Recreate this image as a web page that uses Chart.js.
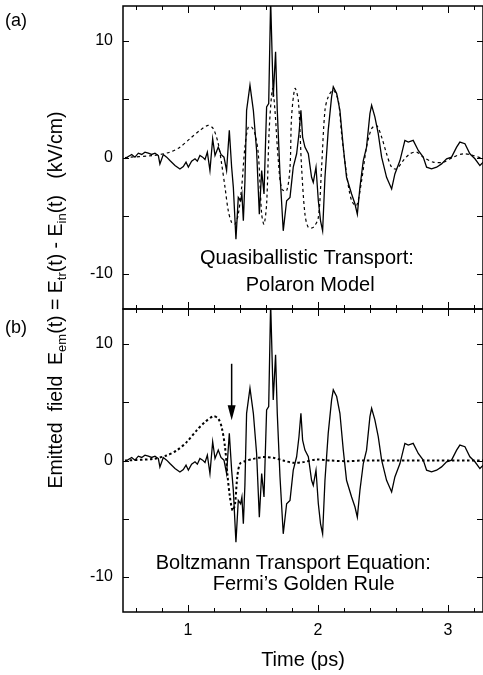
<!DOCTYPE html>
<html>
<head>
<meta charset="utf-8">
<script src="https://cdn.jsdelivr.net/npm/chart.js@4.4.0/dist/chart.umd.min.js"></script>
<style>
  html, body { margin: 0; padding: 0; background: #fff; }
  body { width: 483px; height: 675px; position: relative; overflow: hidden; font-family: "Liberation Sans", Arial, sans-serif; color: #000; }
  canvas { position: absolute; left: 0; }
  #chart-top { top: 0; }
  #chart-bottom { top: 300px; }
  .tag { position: absolute; left: 5px; font-size: 18px; line-height: 20px; }
  #y-title {
    position: absolute; width: 560px; height: 26px; left: -225px; top: 287px;
    text-align: center; font-size: 19.5px; line-height: 26px; white-space: nowrap;
    transform: rotate(-90deg);
  }
  #y-title sub { font-size: 13px; vertical-align: -4px; line-height: 0; }
</style>
</head>
<body>
<canvas id="chart-top" width="483" height="312"></canvas>
<canvas id="chart-bottom" width="483" height="375"></canvas>
<div class="tag" style="top:10px">(a)</div>
<div class="tag" style="top:317px">(b)</div>
<div id="y-title">Emitted&nbsp; field&nbsp; E<sub>em</sub>(t) = E<sub>tr</sub>(t) - E<sub>in</sub>(t)&nbsp;&nbsp; (kV/cm)</div>
<script>
// measured emitted field (solid line, same in both panels)
const timeExp = [0.515, 0.541, 0.567, 0.592, 0.618, 0.644, 0.669, 0.695, 0.720, 0.746, 0.772, 0.784, 0.810, 0.836, 0.861, 0.900, 0.938, 0.964, 0.985, 1.003, 1.028, 1.054, 1.072, 1.092, 1.113, 1.131, 1.149, 1.169, 1.190, 1.208, 1.233, 1.254, 1.277, 1.297, 1.318, 1.336, 1.349, 1.369, 1.387, 1.405, 1.415, 1.426, 1.438, 1.451, 1.477, 1.503, 1.528, 1.549, 1.567, 1.585, 1.605, 1.621, 1.636, 1.656, 1.674, 1.687, 1.708, 1.733, 1.759, 1.785, 1.810, 1.836, 1.854, 1.869, 1.882, 1.900, 1.926, 1.951, 1.964, 1.985, 2.003, 2.020, 2.036, 2.054, 2.079, 2.105, 2.118, 2.144, 2.169, 2.195, 2.220, 2.259, 2.285, 2.303, 2.323, 2.349, 2.374, 2.400, 2.413, 2.438, 2.464, 2.490, 2.528, 2.567, 2.592, 2.631, 2.669, 2.695, 2.733, 2.772, 2.810, 2.836, 2.874, 2.913, 2.951, 2.990, 3.028, 3.067, 3.092, 3.131, 3.169, 3.208, 3.246, 3.272];
const fieldExp = [-0.11, 0.09, 0.26, 0.03, 0.37, 0.26, 0.46, 0.37, 0.26, 0.37, 0.17, -0.55, 0.26, 0.03, -0.26, -0.69, -0.98, -0.78, -0.40, -0.83, -0.32, -0.11, -0.32, 0.17, 0.03, -0.17, 0.46, -1.12, 1.61, 0.17, 0.89, 0.26, 0.03, -1.12, 2.33, -0.83, -2.56, -7.01, -3.42, -3.71, -3.13, -5.43, -2.13, 4.05, 6.21, 4.05, 0.60, -4.86, -1.12, -3.13, 4.34, 4.63, 13.5, 5.2, 9.08, 4.05, -1.41, -6.29, -3.71, -3.42, -0.83, 0.32, 2.04, 4.05, 1.75, 0.89, 0.32, -1.70, -2.13, -0.83, -3.71, -5.43, -6.29, -1.70, 2.33, 5.2, 6.06, 5.49, 4.05, 0.89, -1.70, -3.13, -3.99, -4.86, -2.56, -0.26, 0.89, 3.76, 4.48, 3.48, 2.04, 0.03, -1.70, -2.70, -1.41, -0.26, 1.47, 1.32, 1.47, 0.60, 0.03, -0.83, -0.98, -0.83, -0.55, -0.11, 0.03, 0.89, 1.32, 1.18, 0.32, -0.11, -0.69, -0.40];

// polaron model (dashed, panel a)
const timePolaron = [0.515, 0.733, 0.861, 0.938, 1.015, 1.092, 1.156, 1.195, 1.233, 1.259, 1.285, 1.310, 1.336, 1.362, 1.387, 1.413, 1.438, 1.464, 1.490, 1.515, 1.541, 1.567, 1.585, 1.605, 1.626, 1.651, 1.669, 1.695, 1.721, 1.759, 1.785, 1.797, 1.823, 1.849, 1.874, 1.900, 1.926, 1.964, 2.003, 2.028, 2.054, 2.079, 2.118, 2.156, 2.182, 2.220, 2.259, 2.297, 2.336, 2.374, 2.413, 2.451, 2.490, 2.528, 2.567, 2.605, 2.656, 2.708, 2.759, 2.810, 2.887, 2.964, 3.041, 3.118, 3.195, 3.272];
const fieldPolaron = [0.0, 0.17, 0.46, 0.89, 1.61, 2.33, 2.76, 2.47, 1.18, -0.55, -2.56, -4.57, -5.57, -5.72, -4.86, -2.56, 0.89, 2.61, 2.61, 2.04, 0.32, -4.86, -5.72, -4.00, 2.61, 5.92, 4.05, -0.26, -2.70, -2.85, -0.83, 3.48, 5.92, 4.91, -0.83, -4.86, -6.00, -6.00, -5.14, -0.83, 4.05, 5.20, 5.78, 4.91, 2.04, -1.41, -3.71, -4.14, -1.98, 0.89, 2.47, 2.76, 1.75, 0.32, -0.83, -0.98, -0.26, 0.32, 0.46, 0.03, -0.40, -0.40, 0.03, 0.32, 0.17, -0.11];

// Boltzmann transport / Fermi's golden rule (dotted, panel b)
const timeBoltz = [0.515, 0.733, 0.836, 0.913, 0.990, 1.067, 1.131, 1.195, 1.233, 1.259, 1.285, 1.303, 1.323, 1.344, 1.362, 1.379, 1.400, 1.438, 1.503, 1.579, 1.656, 1.733, 1.810, 1.887, 1.990, 2.092, 2.220, 2.349, 2.600, 2.900, 3.272];
const fieldBoltz = [0.0, 0.14, 0.43, 0.86, 1.58, 2.59, 3.30, 3.79, 3.59, 2.87, 1.15, -1.15, -3.16, -4.31, -3.74, -1.44, -0.29, -0.06, 0.14, 0.29, 0.23, 0.0, -0.2, -0.14, 0.09, 0.0, -0.06, 0.0, 0.0, 0.0, 0.0];

const xLabelTicks = [1, 2, 3];
const yLabelTicks = [-10, 0, 10];
const xTickMarks = [0.6, 0.8, 1.0, 1.2, 1.4, 1.6, 1.8, 2.0, 2.2, 2.4, 2.6, 2.8, 3.0, 3.2];
const yTickMarks = [-10, -5, 0, 5, 10];

const FONT = '"Liberation Sans", Arial, sans-serif';

function pts(xs, ys) {
  return xs.map((x, i) => ({ x: x, y: ys[i] }));
}

// box round the plot area with inward ticks on all sides
const framePlugin = {
  id: "frame",
  afterDraw(chart) {
    const { ctx, chartArea: a, scales: { x, y } } = chart;
    ctx.save();
    ctx.strokeStyle = "#000";
    ctx.lineWidth = 1.5;
    ctx.strokeRect(a.left, a.top, a.right - a.left, a.bottom - a.top);
    ctx.lineWidth = 1;
    ctx.beginPath();
    xTickMarks.forEach((v) => {
      const px = Math.round(x.getPixelForValue(v)) + 0.5;
      const len = Math.abs(v - Math.round(v)) < 1e-6 ? 7 : 4;
      ctx.moveTo(px, a.bottom);
      ctx.lineTo(px, a.bottom - len);
      ctx.moveTo(px, a.top);
      ctx.lineTo(px, a.top + len);
    });
    yTickMarks.forEach((v) => {
      const py = Math.round(y.getPixelForValue(v)) + 0.5;
      ctx.moveTo(a.left, py);
      ctx.lineTo(a.left + 6, py);
      ctx.moveTo(a.right, py);
      ctx.lineTo(a.right - 6, py);
    });
    ctx.stroke();
    ctx.restore();
  },
};

// text lines placed in data coordinates
const labelPlugin = {
  id: "labels",
  afterDraw(chart, args, opts) {
    const { ctx, scales: { x, y } } = chart;
    ctx.save();
    ctx.fillStyle = "#000";
    ctx.font = "20px " + FONT;
    ctx.textAlign = "center";
    ctx.textBaseline = "middle";
    (opts.lines || []).forEach((l) => {
      ctx.fillText(l.text, x.getPixelForValue(l.x), y.getPixelForValue(l.y));
    });
    ctx.restore();
  },
};

// the arrow in panel (b)
const arrowPlugin = {
  id: "arrow",
  afterDraw(chart, args, opts) {
    if (!opts.at) return;
    const { ctx, scales: { x, y } } = chart;
    const px = x.getPixelForValue(opts.at);
    const y0 = y.getPixelForValue(opts.from);
    const y1 = y.getPixelForValue(opts.to);
    ctx.save();
    ctx.strokeStyle = "#000";
    ctx.fillStyle = "#000";
    ctx.lineWidth = 1.5;
    ctx.beginPath();
    ctx.moveTo(px, y0);
    ctx.lineTo(px, y1 - 12);
    ctx.stroke();
    ctx.beginPath();
    ctx.moveTo(px - 4, y1 - 15);
    ctx.lineTo(px + 4, y1 - 15);
    ctx.lineTo(px, y1);
    ctx.closePath();
    ctx.fill();
    ctx.restore();
  },
};

function makeOptions(showX, lines, arrow) {
  return {
    responsive: false,
    animation: false,
    events: [],
    layout: { padding: showX ? { top: 9, right: 0, bottom: 0, left: 0 } : { top: 6, right: 0, bottom: 3, left: 0 } },
    plugins: {
      legend: { display: false },
      tooltip: { enabled: false },
      labels: { lines: lines },
      arrow: arrow || {},
    },
    scales: {
      x: {
        type: "linear",
        min: 0.5,
        max: 3.27,
        display: showX,
        grid: { display: false, drawTicks: false },
        border: { display: false },
        afterBuildTicks: (s) => { s.ticks = xLabelTicks.map((v) => ({ value: v })); },
        afterFit: (s) => { s.height = showX ? 63 : 0; s.paddingLeft = 0; s.paddingRight = 0; },
        ticks: { color: "#000", font: { family: FONT, size: 16 }, padding: 9, maxRotation: 0 },
        title: { display: true, text: "Time (ps)", color: "#000", font: { family: FONT, size: 20 }, padding: { top: 4, bottom: 3 } },
      },
      y: {
        type: "linear",
        min: -13,
        max: 13,
        grid: { display: false, drawTicks: false },
        border: { display: false },
        afterBuildTicks: (s) => { s.ticks = yLabelTicks.map((v) => ({ value: v })); },
        afterFit: (s) => { s.width = 123; s.paddingTop = 0; s.paddingBottom = 0; },
        ticks: { color: "#000", font: { family: FONT, size: 16 }, padding: 10 },
      },
    },
  };
}

const solidSet = {
  label: "Experiment",
  data: pts(timeExp, fieldExp),
  borderColor: "#000",
  borderWidth: 1.3,
  pointRadius: 0,
  tension: 0,
};

new Chart(document.getElementById("chart-top"), {
  type: "line",
  data: {
    datasets: [
      solidSet,
      {
        label: "Polaron model",
        data: pts(timePolaron, fieldPolaron),
        borderColor: "#000",
        borderWidth: 1.2,
        borderDash: [3, 3],
        pointRadius: 0,
        tension: 0.3,
      },
    ],
  },
  options: makeOptions(false, [
    { text: "Quasiballistic Transport:", x: 1.915, y: -8.7 },
    { text: "Polaron Model", x: 1.94, y: -10.95 },
  ]),
  plugins: [framePlugin, labelPlugin],
});

new Chart(document.getElementById("chart-bottom"), {
  type: "line",
  data: {
    datasets: [
      Object.assign({}, solidSet, { data: pts(timeExp, fieldExp) }),
      {
        label: "Boltzmann",
        data: pts(timeBoltz, fieldBoltz),
        borderColor: "#000",
        borderWidth: 2,
        borderDash: [2.5, 2.5],
        pointRadius: 0,
        tension: 0.3,
      },
    ],
  },
  options: makeOptions(true, [
    { text: "Boltzmann Transport Equation:", x: 1.81, y: -8.8 },
    { text: "Fermi\u2019s Golden Rule", x: 1.89, y: -10.6 },
  ], { at: 1.336, from: 8.3, to: 3.45 }),
  plugins: [framePlugin, labelPlugin, arrowPlugin],
});
</script>
</body>
</html>
